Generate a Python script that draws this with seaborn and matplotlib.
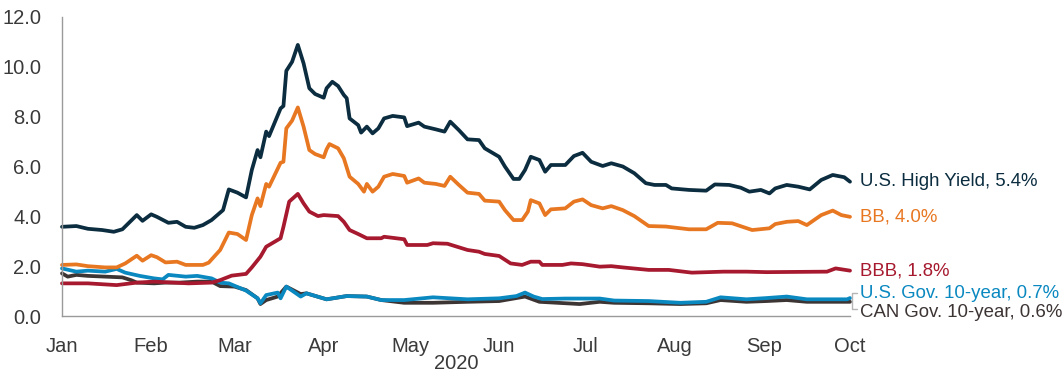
import matplotlib
matplotlib.use("Agg")
import matplotlib.pyplot as plt
import matplotlib.dates as mdates
import matplotlib.transforms as mtransforms
from matplotlib.ticker import FormatStrFormatter
import pandas as pd
import seaborn as sns

# ---------------- data ----------------
hy_dates = ["01-01", "01-06", "01-10", "01-15", "01-19", "01-22", "01-27", "01-29", "02-01", "02-03",
            "02-07", "02-10", "02-13", "02-16", "02-19", "02-22", "02-26", "02-28", "03-02", "03-05",
            "03-07", "03-09", "03-10", "03-12", "03-13", "03-17", "03-18", "03-19", "03-21", "03-23",
            "03-25", "03-27", "03-29", "04-01", "04-02", "04-04", "04-06", "04-08", "04-09", "04-10",
            "04-13", "04-14", "04-16", "04-18", "04-20", "04-22", "04-25", "04-29", "04-30", "05-04",
            "05-06", "05-10", "05-13", "05-15", "05-18", "05-21", "05-25", "05-27", "06-01", "06-03",
            "06-06", "06-08", "06-10", "06-12", "06-15", "06-17", "06-19", "06-24", "06-27", "06-30",
            "07-03", "07-07", "07-10", "07-14", "07-18", "07-22", "07-25", "07-29", "07-31", "08-06",
            "08-12", "08-15", "08-20", "08-24", "08-27", "08-31", "09-03", "09-05", "09-09", "09-13",
            "09-17", "09-21", "09-25", "09-29", "10-01"]
hy_vals = [3.58, 3.61, 3.50, 3.45, 3.38, 3.48, 4.05, 3.82, 4.08, 3.98,
           3.74, 3.78, 3.58, 3.54, 3.65, 3.85, 4.25, 5.08, 4.95, 4.76,
           5.86, 6.66, 6.37, 7.40, 7.22, 8.33, 8.43, 9.84, 10.20, 10.88,
           10.14, 9.14, 8.91, 8.76, 9.14, 9.40, 9.23, 8.87, 8.74, 7.93,
           7.66, 7.36, 7.60, 7.33, 7.53, 7.93, 8.03, 7.97, 7.62, 7.76,
           7.60, 7.49, 7.40, 7.80, 7.46, 7.09, 7.06, 6.73, 6.39, 6.00,
           5.50, 5.50, 5.86, 6.39, 6.26, 5.79, 6.06, 6.06, 6.42, 6.55,
           6.19, 6.02, 6.13, 6.00, 5.73, 5.33, 5.26, 5.26, 5.12, 5.06,
           5.03, 5.28, 5.26, 5.15, 4.99, 5.06, 4.92, 5.12, 5.26, 5.19,
           5.08, 5.46, 5.66, 5.57, 5.39]

bb_dates = ["01-01", "01-06", "01-10", "01-16", "01-20", "01-23", "01-27", "01-29", "02-01", "02-03",
            "02-06", "02-10", "02-13", "02-19", "02-21", "02-25", "02-28", "03-02", "03-05", "03-07",
            "03-09", "03-10", "03-12", "03-13", "03-17", "03-18", "03-19", "03-21", "03-23", "03-25",
            "03-27", "03-29", "04-01", "04-02", "04-03", "04-06", "04-08", "04-10", "04-13", "04-15",
            "04-16", "04-18", "04-20", "04-22", "04-25", "04-29", "04-30", "05-04", "05-06", "05-10",
            "05-13", "05-15", "05-18", "05-21", "05-25", "05-27", "06-01", "06-03", "06-06", "06-09",
            "06-11", "06-12", "06-15", "06-17", "06-19", "06-24", "06-27", "06-30", "07-03", "07-07",
            "07-10", "07-14", "07-18", "07-23", "07-29", "08-06", "08-12", "08-16", "08-21", "08-28",
            "09-03", "09-05", "09-09", "09-13", "09-16", "09-21", "09-25", "09-28", "10-01"]
bb_vals = [2.05, 2.07, 2.00, 1.95, 1.95, 2.11, 2.42, 2.22, 2.44, 2.36,
           2.15, 2.18, 2.05, 2.05, 2.14, 2.65, 3.35, 3.29, 3.05, 4.05,
           4.72, 4.41, 5.30, 5.19, 6.15, 6.19, 7.53, 7.84, 8.37, 7.60,
           6.66, 6.50, 6.37, 6.69, 6.90, 6.73, 6.33, 5.59, 5.30, 4.99,
           5.30, 4.99, 5.19, 5.59, 5.70, 5.62, 5.35, 5.52, 5.35, 5.30,
           5.22, 5.59, 5.26, 4.95, 4.90, 4.63, 4.59, 4.25, 3.85, 3.85,
           4.19, 4.65, 4.52, 4.05, 4.28, 4.32, 4.59, 4.68, 4.45, 4.32,
           4.41, 4.25, 4.01, 3.61, 3.59, 3.48, 3.48, 3.74, 3.72, 3.45,
           3.52, 3.69, 3.78, 3.81, 3.65, 4.05, 4.23, 4.05, 3.98]

bbb_dates = ["01-01", "01-10", "01-20", "01-27", "02-02", "02-14", "02-22", "02-25", "02-29", "03-05",
             "03-07", "03-10", "03-12", "03-17", "03-18", "03-20", "03-23", "03-25", "03-27", "03-30",
             "04-01", "04-06", "04-08", "04-10", "04-13", "04-16", "04-21", "04-22", "04-29", "04-30",
             "05-07", "05-09", "05-14", "05-21", "05-25", "05-27", "06-01", "06-05", "06-09", "06-12",
             "06-15", "06-16", "06-23", "06-26", "06-30", "07-06", "07-10", "07-14", "07-23", "07-30",
             "08-07", "08-18", "08-26", "09-02", "09-23", "09-26", "10-01"]
bbb_vals = [1.31, 1.31, 1.24, 1.34, 1.38, 1.31, 1.34, 1.44, 1.62, 1.69,
            1.95, 2.38, 2.78, 3.12, 3.58, 4.59, 4.90, 4.52, 4.19, 4.01,
            4.05, 4.01, 3.78, 3.45, 3.29, 3.12, 3.12, 3.18, 3.08, 2.85,
            2.85, 2.92, 2.90, 2.65, 2.58, 2.49, 2.41, 2.11, 2.05, 2.18,
            2.18, 2.05, 2.05, 2.11, 2.08, 1.98, 2.00, 1.95, 1.85, 1.85,
            1.74, 1.78, 1.78, 1.76, 1.78, 1.91, 1.82]

usgov_dates = ["01-01", "01-06", "01-10", "01-16", "01-20", "01-23", "01-28", "02-02", "02-05", "02-07",
               "02-13", "02-17", "02-22", "02-25", "02-28", "03-05", "03-09", "03-10", "03-12", "03-16",
               "03-17", "03-19", "03-24", "03-26", "04-02", "04-09", "04-16", "04-21", "04-29", "05-09",
               "05-21", "06-01", "06-07", "06-10", "06-13", "06-16", "06-24", "07-06", "07-11", "07-23",
               "08-03", "08-12", "08-17", "08-26", "09-02", "09-09", "09-16", "09-30", "10-01"]
usgov_vals = [1.91, 1.78, 1.82, 1.78, 1.89, 1.74, 1.61, 1.51, 1.47, 1.65,
              1.58, 1.61, 1.51, 1.34, 1.31, 1.02, 0.71, 0.51, 0.84, 0.94,
              0.71, 1.18, 0.78, 0.91, 0.67, 0.80, 0.78, 0.64, 0.64, 0.75,
              0.67, 0.71, 0.80, 0.94, 0.78, 0.68, 0.70, 0.70, 0.62, 0.60,
              0.53, 0.57, 0.75, 0.67, 0.72, 0.78, 0.67, 0.67, 0.72]

cangov_dates = ["01-01", "01-03", "01-06", "01-10", "01-16", "01-22", "01-25", "01-27", "02-02", "02-06",
                "02-11", "02-17", "02-22", "02-25", "03-01", "03-05", "03-09", "03-10", "03-12", "03-16",
                "03-19", "03-24", "03-26", "04-02", "04-09", "04-16", "04-21", "04-29", "05-09", "05-21",
                "06-01", "06-10", "06-15", "06-29", "07-06", "07-11", "07-23", "08-03", "08-12", "08-17",
                "08-26", "09-02", "09-09", "09-16", "10-01"]
cangov_vals = [1.71, 1.58, 1.65, 1.61, 1.58, 1.55, 1.44, 1.34, 1.31, 1.34,
               1.34, 1.38, 1.38, 1.20, 1.18, 1.04, 0.71, 0.48, 0.64, 0.78,
               1.18, 0.88, 0.91, 0.67, 0.80, 0.78, 0.64, 0.53, 0.53, 0.57,
               0.60, 0.78, 0.57, 0.48, 0.57, 0.53, 0.51, 0.48, 0.51, 0.64,
               0.57, 0.60, 0.64, 0.57, 0.57]

series_names = ["U.S. High Yield", "BB", "BBB", "U.S. Gov. 10-year", "CAN Gov. 10-year"]
series_dates = [hy_dates, bb_dates, bbb_dates, usgov_dates, cangov_dates]
series_vals = [hy_vals, bb_vals, bbb_vals, usgov_vals, cangov_vals]
series_colors = ["#0b2d3f", "#e87722", "#a6192e", "#0a88c0", "#3d3434"]
year_label = "2020"

# ---------------- build long table ----------------
frames = []
for name, d, v in zip(series_names, series_dates, series_vals):
    frames.append(pd.DataFrame({
        "date": pd.to_datetime([f"{year_label}-{x}" for x in d]),
        "value": v,
        "series": name,
    }))
df = pd.concat(frames, ignore_index=True)
palette = dict(zip(series_names, series_colors))

# ---------------- style ----------------
sns.set_theme(style="white")
plt.rcParams["font.family"] = ["Liberation Sans", "DejaVu Sans"]
text_color = "#3a3a3a"
axis_color = "#9a9a9a"

fig = plt.figure(figsize=(10.64, 3.76), dpi=100)
ax = fig.add_axes([62 / 1064, 60 / 376, 788 / 1064, 299 / 376])

draw_order = ["CAN Gov. 10-year", "U.S. Gov. 10-year", "BBB", "BB", "U.S. High Yield"]
sns.lineplot(data=df, x="date", y="value", hue="series", hue_order=draw_order,
             palette=palette, linewidth=2.7, legend=False, ax=ax,
             estimator=None, sort=True)
for line in ax.get_lines():
    line.set_solid_joinstyle("round")
    line.set_clip_on(False)

start = pd.Timestamp(f"{year_label}-01-01")
end = pd.Timestamp(f"{year_label}-10-01")
ax.set_xlim(start, end)
ax.set_ylim(0, 12)
ax.set_yticks(range(0, 13, 2))
ax.yaxis.set_major_formatter(FormatStrFormatter("%.1f"))
ax.xaxis.set_major_locator(mdates.MonthLocator())
ax.xaxis.set_major_formatter(mdates.DateFormatter("%b"))

for side in ["top", "right"]:
    ax.spines[side].set_visible(False)
for side in ["left", "bottom"]:
    ax.spines[side].set_color(axis_color)
    ax.spines[side].set_linewidth(1.0)

ax.tick_params(axis="both", which="major", length=6, width=1.0, color=axis_color,
               labelsize=14.5, labelcolor=text_color, direction="out")
ax.tick_params(axis="y", pad=9)
ax.tick_params(axis="x", pad=9)
ax.set_ylabel("")
ax.set_xlabel(year_label, fontsize=14.5, color=text_color, labelpad=-1)

# ---------------- end labels ----------------
label_offsets = {"U.S. High Yield": 0, "BB": 0, "BBB": 0,
                 "U.S. Gov. 10-year": 3.5, "CAN Gov. 10-year": -7.5}
for name, d, v, c in zip(series_names, series_dates, series_vals, series_colors):
    last_date = pd.Timestamp(f"{year_label}-{d[-1]}")
    ax.annotate(f"{name}, {v[-1]:.1f}%", xy=(last_date, v[-1]),
                xytext=(7.5, label_offsets[name]), textcoords="offset points",
                va="center", ha="left", color=c, fontsize=13.4, annotation_clip=False)

# bracket joining the two government labels
trans = mtransforms.blended_transform_factory(ax.transAxes, ax.transData)
ax.plot([1.009, 1.002, 1.002, 1.009], [0.93, 0.93, 0.30, 0.30], transform=trans,
        color="#b5b5b5", linewidth=1.0, clip_on=False)

fig.savefig("out.png", dpi=100)
